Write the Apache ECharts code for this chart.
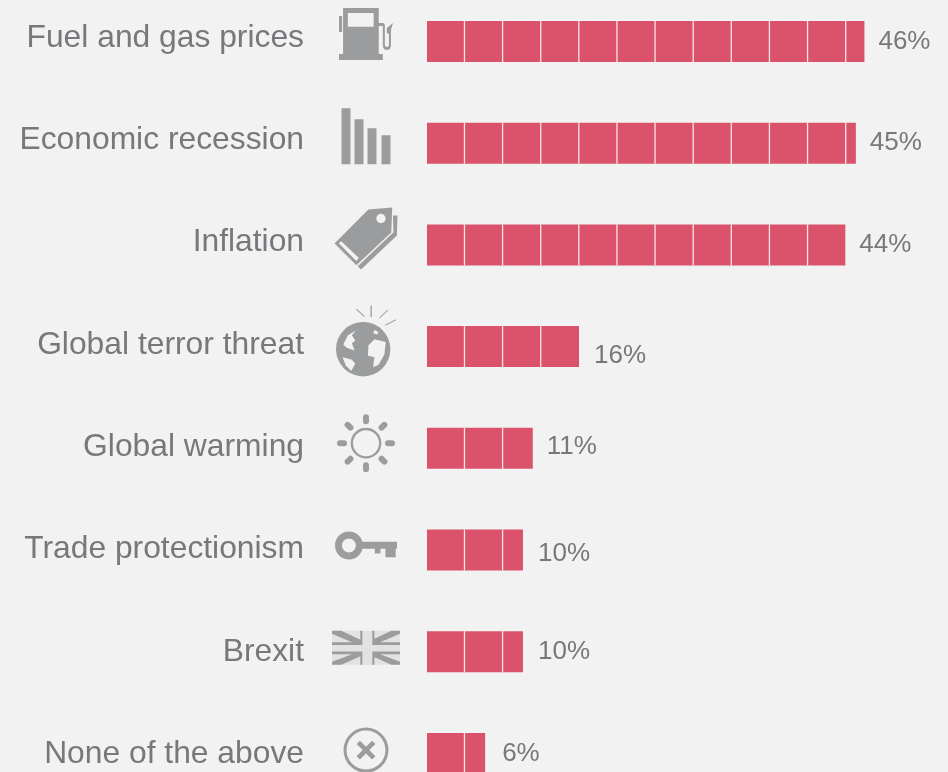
<!DOCTYPE html>
<html>
<head>
<meta charset="utf-8">
<title>Concerns</title>
<style>
  html, body { margin: 0; padding: 0; background: #f2f2f2; }
  #chart { width: 948px; height: 772px; }
</style>
<script src="https://cdn.jsdelivr.net/npm/echarts@6/dist/echarts.min.js"></script>
</head>
<body>
<div id="chart"></div>
<script>
const categories = [
  'Fuel and gas prices',
  'Economic recession',
  'Inflation',
  'Global terror threat',
  'Global warming',
  'Trade protectionism',
  'Brexit',
  'None of the above'
];
// bar lengths, the labels are these rounded
const shares = [45.9, 45, 43.9, 15.95, 11.1, 10.07, 10.07, 6.1];
const segment = 4;

const textColor = '#77787b';
const iconColor = '#9b9c9e';

// small hand placement of the value labels: [dx, dy] from the bar end
const labelNudge = [[0, 0], [0, 0], [0, 0], [1, 9], [0, -1], [1, 4], [1, 0], [3, 0]];

function circle(cx, cy, r, hole) {
  const sweep = hole ? 0 : 1;
  return `M${cx - r} ${cy}A${r} ${r} 0 1 ${sweep} ${cx + r} ${cy}A${r} ${r} 0 1 ${sweep} ${cx - r} ${cy}Z`;
}

function sunRays(cx, cy, from, to, w) {
  let d = '';
  for (let k = 0; k < 8; k++) {
    const a = k * Math.PI / 4;
    const ux = Math.cos(a), uy = Math.sin(a);
    const nx = -uy * w, ny = ux * w;
    const x1 = cx + ux * from, y1 = cy + uy * from;
    const x2 = cx + ux * to, y2 = cy + uy * to;
    d += `M${x1 - nx} ${y1 - ny}L${x2 - nx} ${y2 - ny}A${w} ${w} 0 0 1 ${x2 + nx} ${y2 + ny}L${x1 + nx} ${y1 + ny}A${w} ${w} 0 0 1 ${x1 - nx} ${y1 - ny}Z`;
  }
  return d;
}

const iconPaths = [
  // pump
  'M5 0H40V46H5ZM9.7 5V18.7H35V5Z M1 46H44V52H1Z M1 8H4V24H1Z ' +
    'M40 15L44 15Q46 15 46 17L46 37Q46 39 48 39Q50 39 50 37L50 26L48 25L48 20L54 15L52 22L52 37Q52 42 48 42Q44 42 44 37L44 18L40 18Z',
  // falling columns
  'M0 0H9V56H0Z M13 11H22V56H13Z M26 20H35V56H26Z M40 27H49V56H40Z',
  // price tag
  'M34 2L58 0L57 25L22 58L0 36Z' + circle(46.7, 11, 4.7, true) +
    'M4.3 35.7L22 53.7L24.3 50.3L6.7 33.7Z M58.7 8L63.3 8L62.7 28L26.7 62.3L23.3 59L59.3 24.7Z',
  // globe
  circle(92, 142, 82, false) +
    'M32 128L42 138L66 146L58 124L68 116L58 100L70 86L46 100Z' +
    'M30 166L40 192L56 208L68 186L58 174Z' +
    'M108 130L106 162L126 166L122 196L138 190L156 158L160 120L126 112Z' +
    'M125 84L123 94L134 98L138 90Z' +
    'M72 20L97 43L95 45L70 22Z M114 10H118V45H114Z M140 47L165 23L167 25L142 49Z M158 68L190 52L191 55L159 71Z',
  // sun
  circle(137, 460, 46, false) + circle(137, 460, 39, true) + sunRays(137, 460, 66, 78, 9),
  // key
  circle(85, 768, 42, false) + circle(85, 768, 21, true) +
    'M115 757H230V778H226V803H195V778H180V792H163V778H115Z',
  // union flag lines
  'M12 50H97V15H103V58H12Z M133 15H139V50H216V58H133Z M12 78H103V118H97V86H12Z M133 78H216V86H139V118H133Z' +
    'M12 15H40L97 42V50H72L12 24Z M190 15H216V24L156 50H133V42Z M12 118V109L72 86H97V92L40 118Z M133 86H156L216 109V118H190L133 92Z',
  // cross in a ring
  circle(137, 423, 67, false) + circle(137, 423, 58, true) +
    'M119 395L137 413L155 395L165 405L147 423L165 441L155 451L137 433L119 451L109 441L127 423L109 405Z'
];
const iconSizes = [[54, 52], [49, 56], [63, 62], [60, 71], [58, 58], [62, 28], [68, 34], [45, 45]];

const barData = shares.map((v, i) => ({
  value: v,
  label: { offset: labelNudge[i] }
}));

const option = {
  backgroundColor: '#f2f2f2',
  animation: false,
  textStyle: { fontFamily: 'Liberation Sans, Arial, sans-serif' },
  grid: [
    { left: 427, top: -9.35, width: 524.15, height: 813.6, outerBoundsMode: 'none' },
    { left: 312, top: -13.15, width: 108, height: 818.4, outerBoundsMode: 'none' }
  ],
  xAxis: [
    { gridIndex: 0, type: 'value', min: 0, max: 55, show: false },
    { gridIndex: 1, type: 'value', min: 0, max: 1, show: false }
  ],
  yAxis: [
    { gridIndex: 0, type: 'category', data: categories, inverse: true, show: false },
    {
      gridIndex: 1,
      type: 'category',
      data: categories,
      inverse: true,
      axisLine: { show: false },
      axisTick: { show: false },
      axisLabel: { interval: 0, margin: 8, fontSize: 31.8, color: textColor }
    }
  ],
  series: [
    {
      type: 'bar',
      barWidth: 41,
      itemStyle: { color: '#da536b' },
      label: {
        show: true,
        position: 'right',
        distance: 14,
        fontSize: 26,
        color: textColor,
        formatter: (p) => Math.round(p.value) + '%'
      },
      data: barData
    },
    {
      // the thin white cuts through the bars
      type: 'custom',
      silent: true,
      z: 3,
      encode: { x: 0, y: 1 },
      renderItem: function (params, api) {
        const value = api.value(0);
        const idx = api.value(1);
        const mid = api.coord([0, idx])[1];
        const children = [];
        for (let v = segment; v < value; v += segment) {
          const x = api.coord([v, idx])[0];
          children.push({
            type: 'rect',
            shape: { x: x - 1.3, y: mid - 20.5, width: 1.3, height: 41 },
            style: { fill: '#ffffff', opacity: 0.85 }
          });
        }
        return { type: 'group', children: children };
      },
      data: shares.map((v, i) => [v, i])
    },
    {
      // flag ground goes under the icons
      type: 'scatter',
      xAxisIndex: 1,
      yAxisIndex: 1,
      silent: true,
      symbol: 'rect',
      symbolSize: [68, 34],
      symbolOffset: [0, -4],
      itemStyle: { color: '#e2e2e2', opacity: 1 },
      data: [[0.5, 'Brexit']]
    },
    {
      type: 'scatter',
      xAxisIndex: 1,
      yAxisIndex: 1,
      silent: true,
      z: 4,
      symbolOffset: [0, -4],
      itemStyle: { color: iconColor, opacity: 1 },
      data: categories.map((c, i) => ({
        value: [0.5, c],
        symbol: 'path://' + iconPaths[i],
        symbolKeepAspect: false,
        symbolSize: iconSizes[i]
      }))
    }
  ]
};

const myChart = echarts.init(document.getElementById('chart'));
myChart.setOption(option);
</script>
</body>
</html>
